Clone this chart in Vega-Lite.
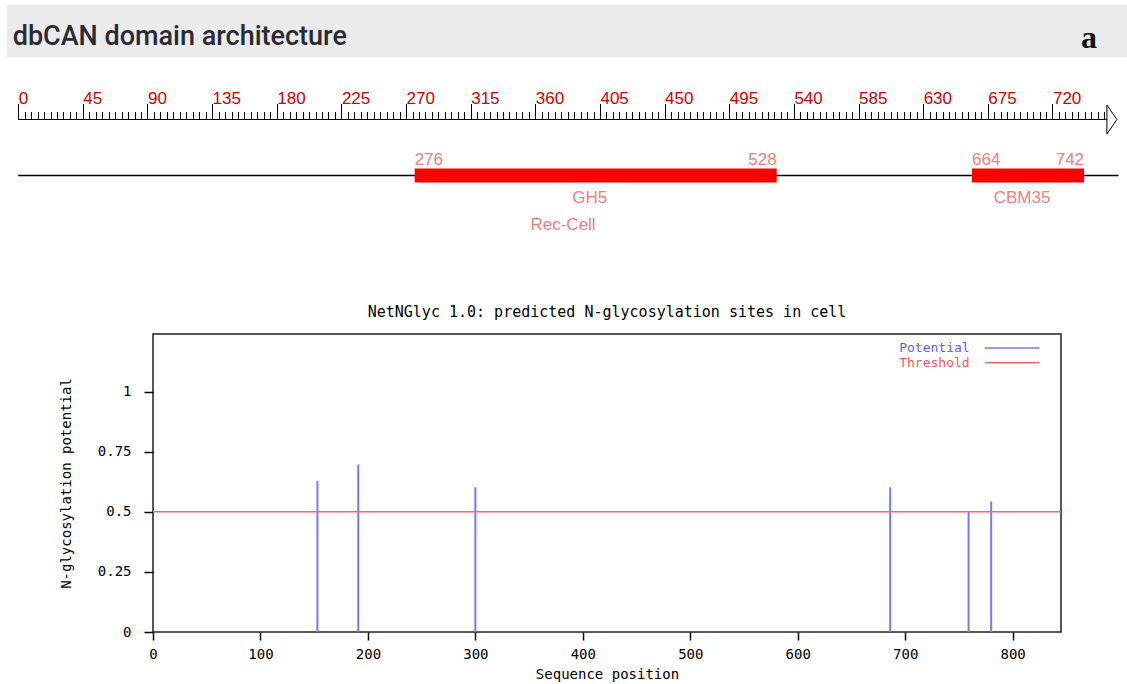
{
  "$schema": "https://vega.github.io/schema/vega-lite/v6.json",
  "padding": {"left": 7, "top": 5, "right": 0, "bottom": 0},
  "autosize": {"type": "pad"},
  "background": "white",
  "config": {"view": {"stroke": null}, "axis": {"grid": false}},
  "spacing": 0,
  "bounds": "flush",
  "vconcat": [
    {
      "width": 1120,
      "height": 52,
      "view": {"fill": "#ebebeb", "stroke": null},
      "layer": [
        {
          "data": {"values": [{"label": "dbCAN domain architecture"}]},
          "mark": {"type": "text", "align": "left", "baseline": "alphabetic", "font": "Roboto", "fontWeight": 500, "fontSize": 27, "color": "#2a2a35"},
          "encoding": {
            "x": {"datum": 5.7, "type": "quantitative", "scale": {"domain": [0, 1120], "nice": false, "zero": false}, "axis": null},
            "y": {"datum": 40, "type": "quantitative", "scale": {"domain": [0, 52], "reverse": true, "nice": false, "zero": false}, "axis": null},
            "text": {"field": "label"}
          }
        },
        {
          "data": {"values": [{"label": "a"}]},
          "mark": {"type": "text", "align": "right", "baseline": "alphabetic", "font": "Liberation Serif, serif", "fontWeight": "bold", "fontSize": 32, "color": "#111111"},
          "encoding": {
            "x": {"datum": 1090, "type": "quantitative"},
            "y": {"datum": 43, "type": "quantitative"},
            "text": {"field": "label"}
          }
        }
      ]
    },
    {
      "width": 1120,
      "height": 277,
      "layer": [
        {
          "data": {"values": [{"track": "ruler"}]},
          "mark": {"type": "rule", "color": "#000000", "strokeWidth": 1.2},
          "encoding": {
            "x": {"datum": 0, "type": "quantitative", "scale": {"domain": [-7.797, 771.9], "nice": false, "zero": false},
              "axis": {
                "orient": "top", "offset": -62.5, "domain": false, "grid": false, "tickCount": 1000,
                "values": [0,4.5,9,13.5,18,22.5,27,31.5,36,40.5,45,49.5,54,58.5,63,67.5,72,76.5,81,85.5,90,94.5,99,103.5,108,112.5,117,121.5,126,130.5,135,139.5,144,148.5,153,157.5,162,166.5,171,175.5,180,184.5,189,193.5,198,202.5,207,211.5,216,220.5,225,229.5,234,238.5,243,247.5,252,256.5,261,265.5,270,274.5,279,283.5,288,292.5,297,301.5,306,310.5,315,319.5,324,328.5,333,337.5,342,346.5,351,355.5,360,364.5,369,373.5,378,382.5,387,391.5,396,400.5,405,409.5,414,418.5,423,427.5,432,436.5,441,445.5,450,454.5,459,463.5,468,472.5,477,481.5,486,490.5,495,499.5,504,508.5,513,517.5,522,526.5,531,535.5,540,544.5,549,553.5,558,562.5,567,571.5,576,580.5,585,589.5,594,598.5,603,607.5,612,616.5,621,625.5,630,634.5,639,643.5,648,652.5,657,661.5,666,670.5,675,679.5,684,688.5,693,697.5,702,706.5,711,715.5,720,724.5,729,733.5,738,742.5,747,751.5,756],
                "labelExpr": "datum.value % 45 === 0 ? '' + datum.value : ''",
                "tickSize": {"condition": {"test": "datum.value % 45 === 0", "value": 16}, "value": 8},
                "tickColor": "#000000", "tickWidth": 1,
                "labelAlign": "left", "labelBaseline": "alphabetic", "labelPadding": 0,
                "labelOverlap": false, "labelFlush": false, "labelBound": false,
                "labelColor": "#d40000", "labelFont": "Liberation Sans", "labelFontSize": 17,
                "title": null
              }
            },
            "x2": {"datum": 758},
            "y": {"datum": 62.5, "type": "quantitative", "scale": {"domain": [0, 277], "reverse": true, "nice": false, "zero": false}, "axis": null}
          }
        },
        {
          "data": {"values": [{"track": "ruler"}]},
          "mark": {"type": "point", "shape": "M-0.345,-1L0.345,0L-0.345,1Z", "size": 841, "filled": true, "fill": "#ffffff", "stroke": "#000000", "strokeWidth": 1, "opacity": 1},
          "encoding": {
            "x": {"datum": 761.4, "type": "quantitative"},
            "y": {"datum": 62.5, "type": "quantitative"}
          }
        },
        {
          "data": {"values": [{"track": "protein"}]},
          "mark": {"type": "rule", "color": "#000000", "strokeWidth": 1.5},
          "encoding": {
            "x": {"datum": 0, "type": "quantitative"},
            "x2": {"datum": 766},
            "y": {"datum": 118.5, "type": "quantitative"}
          }
        },
        {
          "data": {"name": "domains", "values": [
            {"name": "GH5", "sub": "Rec-Cell", "start": 276, "end": 528},
            {"name": "CBM35", "sub": "", "start": 664, "end": 742}
          ]},
          "layer": [
            {
              "mark": {"type": "rect", "color": "#ff0000"},
              "encoding": {
                "x": {"field": "start", "type": "quantitative"},
                "x2": {"field": "end"},
                "y": {"datum": 111.5, "type": "quantitative"},
                "y2": {"datum": 125.5}
              }
            },
            {
              "mark": {"type": "text", "align": "left", "baseline": "alphabetic", "font": "Liberation Sans", "fontSize": 17, "color": "#f08080"},
              "encoding": {
                "x": {"field": "start", "type": "quantitative"},
                "y": {"datum": 108, "type": "quantitative"},
                "text": {"field": "start", "type": "quantitative", "format": "d"}
              }
            },
            {
              "mark": {"type": "text", "align": "right", "baseline": "alphabetic", "font": "Liberation Sans", "fontSize": 17, "color": "#f08080"},
              "encoding": {
                "x": {"field": "end", "type": "quantitative"},
                "y": {"datum": 108, "type": "quantitative"},
                "text": {"field": "end", "type": "quantitative", "format": "d"}
              }
            },
            {
              "transform": [{"calculate": "(datum.start + datum.end) / 2", "as": "mid"}],
              "mark": {"type": "text", "align": "center", "dx": -6, "baseline": "alphabetic", "font": "Liberation Sans", "fontSize": 17, "color": "#f08080"},
              "encoding": {
                "x": {"field": "mid", "type": "quantitative"},
                "y": {"datum": 146, "type": "quantitative"},
                "text": {"field": "name"}
              }
            },
            {
              "transform": [{"filter": "datum.sub !== ''"}, {"calculate": "(datum.start + datum.end) / 2", "as": "mid"}],
              "mark": {"type": "text", "align": "right", "baseline": "alphabetic", "font": "Liberation Sans", "fontSize": 17, "color": "#f08080"},
              "encoding": {
                "x": {"field": "mid", "type": "quantitative"},
                "y": {"datum": 173, "type": "quantitative"},
                "text": {"field": "sub"}
              }
            }
          ]
        }
      ]
    },
    {
      "spacing": 0,
      "bounds": "flush",
      "hconcat": [
        {
          "width": 146,
          "height": 298,
          "data": {"values": [{}]},
          "mark": {"type": "point", "opacity": 0}
        },
        {
          "width": 908,
          "height": 298,
          "view": {"stroke": "#222222", "strokeWidth": 1.5},
          "title": {"text": "NetNGlyc 1.0: predicted N-glycosylation sites in cell", "font": "DejaVu Sans Mono", "fontSize": 15, "fontWeight": "normal", "color": "#000000", "offset": 14, "anchor": "middle"},
          "layer": [
            {
              "data": {"values": [
                {"position": 153, "potential": 0.629},
                {"position": 191, "potential": 0.697},
                {"position": 300, "potential": 0.602},
                {"position": 686, "potential": 0.602},
                {"position": 759, "potential": 0.5},
                {"position": 780, "potential": 0.543}
              ]},
              "mark": {"type": "rule", "color": "#7777ff", "strokeWidth": 2},
              "encoding": {
                "x": {"field": "position", "type": "quantitative", "scale": {"domain": [0, 845], "nice": false, "zero": false},
                  "axis": {"values": [0,100,200,300,400,500,600,700,800], "domain": false, "tickSize": 8, "tickColor": "#000000", "tickWidth": 1.5,
                    "labelFont": "DejaVu Sans Mono", "labelFontSize": 14, "labelColor": "#000000", "labelPadding": 7, "labelFlush": false,
                    "title": "Sequence position", "titleFont": "DejaVu Sans Mono", "titleFontSize": 14, "titleFontWeight": "normal", "titleColor": "#000000", "titlePadding": 6}},
                "y": {"field": "potential", "type": "quantitative", "scale": {"domain": [0, 1.24], "nice": false, "zero": false},
                  "axis": {"values": [0, 0.25, 0.5, 0.75, 1], "labelExpr": "'' + datum.value", "domain": false, "tickSize": 9, "tickColor": "#000000", "tickWidth": 1.5,
                    "labelFont": "DejaVu Sans Mono", "labelFontSize": 14, "labelColor": "#000000", "labelPadding": 13,
                    "title": "N-glycosylation potential", "titleFont": "DejaVu Sans Mono", "titleFontSize": 14, "titleFontWeight": "normal", "titleColor": "#000000", "titlePadding": 24}},
                "y2": {"datum": 0}
              }
            },
            {
              "data": {"values": [{"series": "Threshold"}]},
              "mark": {"type": "rule", "color": "#ff6666", "strokeWidth": 1.5},
              "encoding": {"y": {"datum": 0.5, "type": "quantitative"}}
            },
            {
              "data": {"values": [{"label": "Potential"}]},
              "mark": {"type": "text", "align": "right", "baseline": "middle", "font": "DejaVu Sans Mono", "fontSize": 13, "color": "#5c5cff"},
              "encoding": {
                "x": {"datum": 760, "type": "quantitative"},
                "y": {"datum": 1.182, "type": "quantitative"},
                "text": {"field": "label"}
              }
            },
            {
              "data": {"values": [{"label": "Threshold"}]},
              "mark": {"type": "text", "align": "right", "baseline": "middle", "font": "DejaVu Sans Mono", "fontSize": 13, "color": "#ff5555"},
              "encoding": {
                "x": {"datum": 760, "type": "quantitative"},
                "y": {"datum": 1.12, "type": "quantitative"},
                "text": {"field": "label"}
              }
            },
            {
              "data": {"values": [{"series": "Potential"}]},
              "mark": {"type": "rule", "color": "#7777ff", "strokeWidth": 1.5},
              "encoding": {
                "x": {"datum": 774, "type": "quantitative"},
                "x2": {"datum": 825},
                "y": {"datum": 1.182, "type": "quantitative"}
              }
            },
            {
              "data": {"values": [{"series": "Threshold"}]},
              "mark": {"type": "rule", "color": "#ff6666", "strokeWidth": 1.5},
              "encoding": {
                "x": {"datum": 774, "type": "quantitative"},
                "x2": {"datum": 825},
                "y": {"datum": 1.12, "type": "quantitative"}
              }
            }
          ]
        }
      ]
    }
  ]
}
